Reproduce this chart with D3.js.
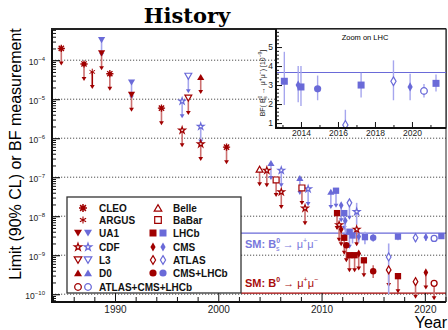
<!DOCTYPE html>
<html>
<head>
<meta charset="utf-8">
<script src="https://cdn.jsdelivr.net/npm/d3@7"></script>
<style>
body { margin: 0; background: #fff; }
text { font-family: "Liberation Sans", Arial, sans-serif; }
</style>
</head>
<body>
<svg id="chart" width="448" height="330"></svg>
<script>
// ---- data: [year, value] = upper limit (90% CL), [year, value, lo, hi] = measurement
const cleoB0   = [[1984.8, 2.0e-4], [1987.0, 8.0e-5], [1989.5, 4.5e-5], [1994.5, 5.9e-6], [2000.8, 5.9e-7]];
const argusB0  = [[1987.8, 5.0e-5]];
const ua1Bs    = [[1988.7, 3.3e-4], [1991.6, 2.7e-5]];
const ua1B0    = [[1988.7, 1.5e-4], [1991.6, 1.3e-5]];
const cdfBs    = [[1996.5, 8.9e-6], [1998.3, 2.0e-6], [2006.1, 1.5e-7], [2008.7, 5.0e-8], [2013.4, 1.3e-8, 6.0e-9, 2.2e-8]];
const cdfB0    = [[1996.5, 1.6e-6], [1998.3, 7.1e-7], [2004.7, 1.5e-7], [2006.1, 4.2e-8], [2008.4, 1.6e-8], [2011.7, 6.0e-9], [2013.4, 4.6e-9]];
const l3Bs     = [[1997.1, 3.9e-5]];
const l3B0     = [[1997.1, 1.07e-5]];
const d0Bs     = [[2005.1, 2.3e-7], [2007.9, 9.5e-8], [2010.9, 4.2e-8]];
const d0B0     = [[1998.3, 3.7e-5]];
const belleB0  = [[2004.0, 1.6e-7]];
const babarB0  = [[2005.6, 8.5e-8], [2008.1, 5.3e-8]];
const lhcbBs   = [[2011.4, 4.5e-8], [2012.2, 1.2e-8], [2012.7, 4.0e-9], [2013.0, 3.2e-9, 2.0e-9, 4.7e-9],
                  [2014.2, 2.9e-9, 1.9e-9, 4.0e-9], [2017.4, 3.0e-9, 2.4e-9, 3.6e-9], [2021.6, 3.09e-9, 2.66e-9, 3.55e-9]];
const lhcbB0   = [[2011.5, 1.2e-8], [2012.2, 2.8e-9], [2012.7, 1.0e-9], [2013.2, 1.0e-9], [2014.1, 7.4e-10], [2017.4, 2.9e-10]];
const cmsBs    = [[2011.9, 1.9e-8], [2012.3, 7.7e-9], [2013.6, 3.0e-9, 2.1e-9, 4.0e-9], [2020.1, 2.9e-9, 2.3e-9, 3.6e-9]];
const cmsB0    = [[2011.9, 4.6e-9], [2013.6, 1.1e-9], [2020.1, 3.6e-10]];
const atlasBs  = [[2012.7, 2.2e-8], [2016.5, 0.9e-9, 1.0e-10, 2.0e-9], [2019.1, 2.8e-9, 2.2e-9, 3.6e-9]];
const atlasB0  = [[2016.5, 4.2e-10], [2019.1, 2.1e-10]];
const cmsLhcbBs = [[2015.0, 2.8e-9, 2.2e-9, 3.5e-9]];
const cmsLhcbB0 = [[2012.4, 1.8e-9], [2015.0, 3.9e-10, 2.6e-10, 5.5e-10]];
const comboBs  = [[2020.9, 2.69e-9, 2.35e-9, 3.06e-9]];
const comboB0  = [[2020.9, 1.9e-10]];

const smBs = 3.66e-9;
const smB0 = 1.06e-10;

// inset (Zoom on LHC), BF(Bs->mumu) in 1e-9: [year, value, lo, hi]
const insetLhcb    = [[2013.1, 3.2, 1.95, 4.75], [2014.0, 2.9, 1.9, 4.0], [2017.25, 3.0, 2.35, 3.65], [2021.3, 3.09, 2.66, 3.55]];
const insetCms     = [[2013.85, 3.0, 2.1, 4.0], [2019.9, 2.9, 2.2, 3.6]];
const insetAtlas   = [[2016.4, 0.9, 0.1, 1.7], [2019.0, 3.2, 2.2, 4.3]];
const insetCmsLhcb = [[2014.9, 2.8, 2.2, 3.5]];
const insetCombo   = [[2020.65, 2.69, 2.35, 3.06]];
const insetSm = 3.66;

const xTickYears = [1990, 2000, 2010, 2020];
const yExponents = [-10, -9, -8, -7, -6, -5, -4];
const insetXTicks = [2014, 2016, 2018, 2020];
const insetYTicks = [1, 2, 3, 4, 5];

const RED = "#a00000", BLUE = "#6a6ad8";
const RED_LINE = "#cc7070", BLUE_LINE = "#a6a6ee";

const svg = d3.select("#chart");

const x = d3.scaleLinear().domain([1983.9, 2022.05]).range([52, 446]);
const y = d3.scaleLog().domain([Math.pow(10, -10.2), Math.pow(10, -3.2)]).range([302, 29]);

// title + axis titles
svg.append("text").attr("x", 187).attr("y", 23).attr("text-anchor", "middle")
   .style("font-family", "'DejaVu Serif', serif").style("font-weight", "bold").style("font-size", "21px")
   .text("History");

svg.append("text").attr("transform", "translate(21,154) rotate(-90)").attr("text-anchor", "middle")
   .style("font-size", "16px").text("Limit (90% CL) or BF measurement");

svg.append("text").attr("x", 447).attr("y", 328).attr("text-anchor", "end")
   .style("font-size", "16px").text("Year");

// dotted decade grid
svg.append("g").selectAll("line").data(yExponents).join("line")
   .attr("x1", 52).attr("x2", 446)
   .attr("y1", d => y(Math.pow(10, d))).attr("y2", d => y(Math.pow(10, d)))
   .attr("stroke", "#222").attr("stroke-width", 0.8).attr("stroke-dasharray", "1.2,1.8");

// SM predictions
svg.append("line").attr("x1", x(2002.2)).attr("x2", 446).attr("y1", y(smBs)).attr("y2", y(smBs))
   .attr("stroke", BLUE).attr("stroke-width", 1.2);
svg.append("line").attr("x1", x(2002.2)).attr("x2", 446).attr("y1", y(smB0)).attr("y2", y(smB0))
   .attr("stroke", RED).attr("stroke-width", 1.2);

function smLabel(yb, color, isBs) {
   const t = svg.append("text").attr("x", 245).attr("y", yb).attr("fill", color).style("font-size", "11px");
   t.append("tspan").style("font-weight", "bold").text("SM: B");
   t.append("tspan").style("font-size", "7px").style("font-weight", "bold").attr("dy", -5).text("0");
   let back = -5;
   if (isBs) {
      t.append("tspan").style("font-size", "7px").attr("dx", -4).attr("dy", 8).text("s");
      back = 3;
   }
   t.append("tspan").attr("dy", -back).text(" \u2192 \u03bc");
   t.append("tspan").style("font-size", "7px").attr("dy", -5).text("+");
   t.append("tspan").attr("dy", 5).text("\u03bc");
   t.append("tspan").style("font-size", "7px").attr("dy", -5).text("\u2212");
}
smLabel(248, "#7878dc", true);
smLabel(287, "#a80c0c", false);

// ---- markers
function marker(g, kind, cx, cy, color, s) {
   s = s || 1;
   const tr = `translate(${cx},${cy}) scale(${s})`;
   const filled = p => g.append("path").attr("transform", tr).attr("d", p).attr("fill", color);
   const open = p => g.append("path").attr("transform", tr).attr("d", p).attr("fill", "#fff")
      .attr("stroke", color).attr("stroke-width", 1.2 / s);
   switch (kind) {
      case "cleo":
         g.append("path").attr("transform", tr).attr("d", "M-4,0H4M0,-4V4M-2.9,-2.9L2.9,2.9M-2.9,2.9L2.9,-2.9")
            .attr("stroke", color).attr("stroke-width", 1.5).attr("fill", "none");
         g.append("circle").attr("transform", tr).attr("r", 2.2).attr("fill", color);
         break;
      case "argus":
         g.append("path").attr("transform", tr).attr("d", "M0,-3.6V3.6M-3.1,-1.8L3.1,1.8M-3.1,1.8L3.1,-1.8")
            .attr("stroke", color).attr("stroke-width", 1.1).attr("fill", "none");
         break;
      case "tridown": filled("M-4,-3.3H4L0,3.5Z"); break;
      case "triup": filled("M-4,3.3H4L0,-3.5Z"); break;
      case "otridown": open("M-3.8,-3.2H3.8L0,3.4Z"); break;
      case "otriup": open("M-3.8,3.2H3.8L0,-3.4Z"); break;
      case "ostar": open(d3.symbol(d3.symbolStar, 17)()); break;
      case "square": filled("M-3.5,-3.5H3.5V3.5H-3.5Z"); break;
      case "osquare": open("M-3.3,-3.3H3.3V3.3H-3.3Z"); break;
      case "diamond": filled("M0,-4.6L2.6,0L0,4.6L-2.6,0Z"); break;
      case "odiamond": open("M0,-4.4L2.6,0L0,4.4L-2.6,0Z"); break;
      case "circle": g.append("circle").attr("transform", tr).attr("r", 3.6).attr("fill", color); break;
      case "ocircle": g.append("circle").attr("transform", tr).attr("r", 3.3).attr("fill", "#fff")
         .attr("stroke", color).attr("stroke-width", 1.3 / s); break;
   }
}

const series = [
   { data: ua1Bs, kind: "tridown", c: BLUE, lc: BLUE_LINE },
   { data: l3Bs, kind: "otridown", c: BLUE, lc: BLUE_LINE },
   { data: cdfBs, kind: "ostar", c: BLUE, lc: BLUE_LINE },
   { data: d0Bs, kind: "triup", c: BLUE, lc: BLUE_LINE },
   { data: cleoB0, kind: "cleo", c: RED, lc: RED_LINE },
   { data: argusB0, kind: "argus", c: RED, lc: RED },
   { data: ua1B0, kind: "tridown", c: RED, lc: RED_LINE },
   { data: l3B0, kind: "otridown", c: RED, lc: RED_LINE },
   { data: cdfB0, kind: "ostar", c: RED, lc: RED_LINE },
   { data: d0B0, kind: "triup", c: RED, lc: RED_LINE },
   { data: belleB0, kind: "otriup", c: RED, lc: RED_LINE },
   { data: babarB0, kind: "osquare", c: RED, lc: RED_LINE },
   { data: lhcbB0, kind: "square", c: RED, lc: RED_LINE },
   { data: cmsB0, kind: "diamond", c: RED, lc: RED_LINE },
   { data: atlasB0, kind: "odiamond", c: RED, lc: RED_LINE },
   { data: cmsLhcbB0, kind: "circle", c: RED, lc: RED_LINE },
   { data: comboB0, kind: "ocircle", c: RED, lc: RED_LINE },
   { data: lhcbBs, kind: "square", c: BLUE, lc: BLUE_LINE },
   { data: cmsBs, kind: "diamond", c: BLUE, lc: BLUE_LINE },
   { data: atlasBs, kind: "odiamond", c: BLUE, lc: BLUE_LINE },
   { data: cmsLhcbBs, kind: "circle", c: BLUE, lc: BLUE_LINE },
   { data: comboBs, kind: "ocircle", c: BLUE, lc: BLUE_LINE }
];

const ARROW = 16;
const lineLayer = svg.append("g");
const markLayer = svg.append("g");

series.forEach(s => {
   s.data.forEach(d => {
      const px = x(d[0]), py = y(d[1]);
      if (d.length === 2) {
         lineLayer.append("line").attr("x1", px).attr("x2", px).attr("y1", py).attr("y2", py + ARROW - 2)
            .attr("stroke", s.lc).attr("stroke-width", 1.6);
         lineLayer.append("path").attr("d", `M${px - 2.4},${py + ARROW - 3}L${px + 2.4},${py + ARROW - 3}L${px},${py + ARROW + 1}Z`)
            .attr("fill", s.c);
      } else {
         lineLayer.append("line").attr("x1", px).attr("x2", px).attr("y1", y(d[3])).attr("y2", y(d[2]))
            .attr("stroke", s.lc).attr("stroke-width", 1.6);
      }
      marker(markLayer, s.kind, px, py, s.c, 0.9);
   });
});

// ---- legend
const lg = svg.append("g");
lg.append("rect").attr("x", 67).attr("y", 197).attr("width", 174).attr("height", 96)
   .attr("fill", "#fff").attr("stroke", "#333").attr("stroke-width", 1.3);

const legendLeft = [
   { label: "CLEO", kinds: ["cleo"], cy: 208 },
   { label: "ARGUS", kinds: ["argus"], cy: 220 },
   { label: "UA1", kinds: ["tridown", "tridown"], cy: 233 },
   { label: "CDF", kinds: ["ostar", "ostar"], cy: 247 },
   { label: "L3", kinds: ["otridown", "otridown"], cy: 260 },
   { label: "D0", kinds: ["triup", "triup"], cy: 273 },
   { label: "ATLAS+CMS+LHCb", kinds: ["ocircle", "ocircle"], cy: 287 }
];
const legendRight = [
   { label: "Belle", kinds: ["otriup"], cy: 208 },
   { label: "BaBar", kinds: ["osquare"], cy: 220 },
   { label: "LHCb", kinds: ["square", "square"], cy: 233 },
   { label: "CMS", kinds: ["diamond", "diamond"], cy: 247 },
   { label: "ATLAS", kinds: ["odiamond", "odiamond"], cy: 260 },
   { label: "CMS+LHCb", kinds: ["circle", "circle"], cy: 273 }
];
function legendColumn(items, mx, tx) {
   items.forEach(it => {
      if (it.kinds.length === 1) {
         marker(lg, it.kinds[0], mx, it.cy, RED, 1);
      } else {
         marker(lg, it.kinds[0], mx - 5, it.cy, RED, 1);
         marker(lg, it.kinds[1], mx + 5, it.cy, BLUE, 1);
      }
      lg.append("text").attr("x", tx).attr("y", it.cy + 3.7).style("font-size", "10px")
         .style("font-weight", "bold").attr("fill", "#111").text(it.label);
   });
}
legendColumn(legendLeft, 83, 99);
legendColumn(legendRight, 158, 173);

// ---- axes (ROOT style, ticks inside)
const minorY = [];
yExponents.concat([-11]).forEach(k => {
   for (let m = 2; m <= 9; m++) {
      const v = m * Math.pow(10, k);
      if (v > y.domain()[0] && v < y.domain()[1]) minorY.push(v);
   }
});
svg.append("g").attr("transform", "translate(52,0)")
   .call(d3.axisLeft(y).tickValues(minorY).tickSizeInner(-4).tickSizeOuter(0).tickFormat(""))
   .call(g => g.select(".domain").remove());
const yAx = svg.append("g").attr("transform", "translate(52,0)")
   .call(d3.axisLeft(y).tickValues(yExponents.map(k => Math.pow(10, k))).tickSizeInner(-8).tickSizeOuter(0).tickPadding(7).tickFormat(""))
   .call(g => g.select(".domain").remove());
yAx.selectAll(".tick line").attr("stroke-width", 1.2);
yAx.selectAll(".tick text").each(function(d) {
   const t = d3.select(this).style("font-size", "8.5px").attr("fill", "#222").attr("dy", "0.45em");
   t.append("tspan").text("10");
   t.append("tspan").attr("dy", -4).style("font-size", "6px").text("\u2212" + Math.round(-Math.log10(d)));
});

const minorX = d3.range(1984, 2022.1, 2).filter(v => v % 10 !== 0);
svg.append("g").attr("transform", "translate(0,302)")
   .call(d3.axisBottom(x).tickValues(minorX).tickSizeInner(-5).tickSizeOuter(0).tickFormat(""))
   .call(g => g.select(".domain").remove());
const xAx = svg.append("g").attr("transform", "translate(0,302)")
   .call(d3.axisBottom(x).tickValues(xTickYears).tickSizeInner(-9).tickSizeOuter(0).tickPadding(4).tickFormat(d3.format("d")))
   .call(g => g.select(".domain").remove());
xAx.selectAll(".tick text").style("font-size", "10px").attr("fill", "#222");
svg.selectAll(".tick line").attr("stroke", "#111");

// frame
svg.append("line").attr("x1", 52).attr("x2", 52).attr("y1", 28).attr("y2", 303).attr("stroke", "#111").attr("stroke-width", 2);
svg.append("line").attr("x1", 51).attr("x2", 446).attr("y1", 302).attr("y2", 302).attr("stroke", "#111").attr("stroke-width", 2);
svg.append("line").attr("x1", 51).attr("x2", 446).attr("y1", 29).attr("y2", 29).attr("stroke", "#222").attr("stroke-width", 2);
svg.append("line").attr("x1", 446).attr("x2", 446).attr("y1", 29).attr("y2", 302).attr("stroke", "#222").attr("stroke-width", 1);

// ---- inset
const xi = d3.scaleLinear().domain([2012.65, 2021.84]).range([276, 446]);
const yi = d3.scaleLinear().domain([0.74, 5.95]).range([128, 29]);
const ins = svg.append("g");
ins.append("rect").attr("x", 276).attr("y", 29).attr("width", 170).attr("height", 99)
   .attr("fill", "#fff").attr("stroke", "#222").attr("stroke-width", 1.2);
ins.append("clipPath").attr("id", "insclip").append("rect").attr("x", 276).attr("y", 29).attr("width", 170).attr("height", 99);

ins.append("text").attr("x", 365).attr("y", 40).attr("text-anchor", "middle").style("font-size", "7.5px").text("Zoom on LHC");

ins.append("line").attr("x1", 276).attr("x2", 446).attr("y1", yi(insetSm)).attr("y2", yi(insetSm))
   .attr("stroke", BLUE).attr("stroke-width", 1.2);

const insSeries = [
   { data: insetLhcb, kind: "square" },
   { data: insetCms, kind: "diamond" },
   { data: insetAtlas, kind: "odiamond" },
   { data: insetCmsLhcb, kind: "circle" },
   { data: insetCombo, kind: "ocircle" }
];
const insBars = ins.append("g").attr("clip-path", "url(#insclip)");
const insMarks = ins.append("g");
insSeries.forEach(s => s.data.forEach(d => {
   insBars.append("line").attr("x1", xi(d[0])).attr("x2", xi(d[0])).attr("y1", yi(d[3])).attr("y2", yi(d[2]))
      .attr("stroke", BLUE_LINE).attr("stroke-width", 1.4);
   marker(insMarks, s.kind, xi(d[0]), yi(d[1]), BLUE, 1);
}));

const iy = ins.append("g").attr("transform", "translate(276,0)")
   .call(d3.axisLeft(yi).tickValues(insetYTicks).tickSizeInner(-6).tickSizeOuter(0).tickPadding(3).tickFormat(d3.format("d")))
   .call(g => g.select(".domain").remove());
iy.selectAll(".tick text").style("font-size", "8.5px").attr("fill", "#222");
ins.append("g").attr("transform", "translate(276,0)")
   .call(d3.axisLeft(yi).tickValues(d3.range(0.8, 5.95, 0.2).filter(v => Math.abs(v - Math.round(v)) > 0.05)).tickSizeInner(-3).tickSizeOuter(0).tickFormat(""))
   .call(g => g.select(".domain").remove());
const ix = ins.append("g").attr("transform", "translate(0,128)")
   .call(d3.axisBottom(xi).tickValues(insetXTicks).tickSizeInner(-6).tickSizeOuter(0).tickPadding(2).tickFormat(d3.format("d")))
   .call(g => g.select(".domain").remove());
ix.selectAll(".tick text").style("font-size", "8.5px").attr("fill", "#222");
ins.append("g").attr("transform", "translate(0,128)")
   .call(d3.axisBottom(xi).tickValues(d3.range(2013, 2022, 1).filter(v => v % 2 === 1)).tickSizeInner(-3).tickSizeOuter(0).tickFormat(""))
   .call(g => g.select(".domain").remove());
ins.selectAll(".tick line").attr("stroke", "#111");
ins.append("line").attr("x1", 276).attr("x2", 276).attr("y1", 29).attr("y2", 129).attr("stroke", "#111").attr("stroke-width", 2);
ins.append("line").attr("x1", 275).attr("x2", 446).attr("y1", 128).attr("y2", 128).attr("stroke", "#111").attr("stroke-width", 2);

const il = ins.append("text").attr("transform", "translate(265,83) rotate(-90)").attr("text-anchor", "middle")
   .style("font-size", "7px").attr("fill", "#222");
il.append("tspan").text("BF( B");
il.append("tspan").attr("dy", -3).style("font-size", "5px").text("0");
il.append("tspan").attr("dx", -3).attr("dy", 5).style("font-size", "5px").text("s");
il.append("tspan").attr("dy", -2).text(" \u2192 \u03bc");
il.append("tspan").attr("dy", -3).style("font-size", "5px").text("+");
il.append("tspan").attr("dy", 3).text("\u03bc");
il.append("tspan").attr("dy", -3).style("font-size", "5px").text("\u2212");
il.append("tspan").attr("dy", 3).text(") [10");
il.append("tspan").attr("dy", -3).style("font-size", "5px").text("\u22129");
il.append("tspan").attr("dy", 3).text("]");
</script>
</body>
</html>
